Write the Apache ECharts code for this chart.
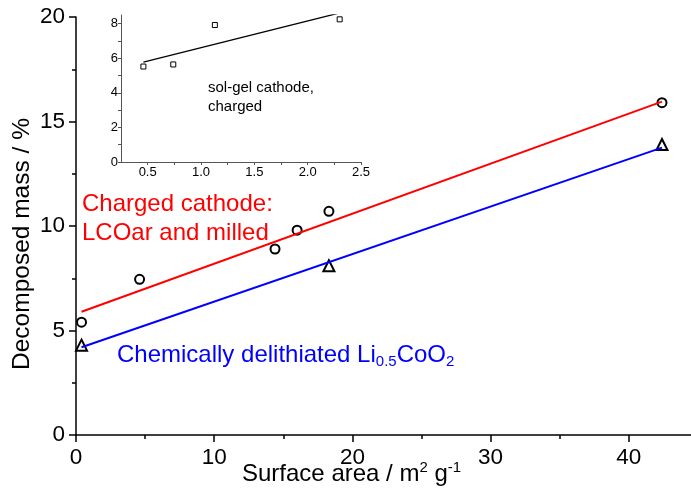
<!DOCTYPE html>
<html>
<head>
<meta charset="utf-8">
<script src="https://cdn.jsdelivr.net/npm/echarts@6/dist/echarts.min.js"></script>
<style>
  html, body { margin: 0; padding: 0; background: #fff; }
  #chart { width: 691px; height: 494px; }
</style>
</head>
<body>
<div id="chart"></div>
<script>
// main plot: charged cathode (circles) and delithiated Li0.5CoO2 (triangles)
const chargedPts = [[0.4, 5.4], [4.6, 7.45], [14.4, 8.9], [16.0, 9.8], [18.3, 10.7], [42.4, 15.9]];
const delithPts = [[0.4, 4.3], [18.3, 8.1], [42.4, 13.9]];
// fitted lines (end points)
const chargedFit = [[0.4, 5.9], [42.4, 15.95]];
const delithFit = [[0.4, 4.2], [42.4, 13.75]];
// inset: sol-gel cathode, charged
const solgelPts = [[0.46, 5.52], [0.74, 5.64], [1.13, 7.92], [2.3, 8.25]];
const solgelFit = [[0.46, 5.78], [2.3, 8.62]];

const mainXTicks = [0, 10, 20, 30, 40];
const mainXMinor = [5, 15, 25, 35];
const insetXTicks = [0.5, 0.75, 1.0, 1.25, 1.5, 1.75, 2.0, 2.25, 2.5];
const insetXLabels = [0.5, 1.0, 1.5, 2.0, 2.5];
const insetYTicks = [0, 1, 2, 3, 4, 5, 6, 7, 8];
const insetYLabels = [0, 2, 4, 6, 8];

const font = 'Liberation Sans, Arial, sans-serif';

const myChart = echarts.init(document.getElementById('chart'));

const option = {
  animation: false,
  textStyle: { fontFamily: font },
  grid: [
    { left: 76, right: 0, top: 17, bottom: 59 },   // main
    { left: 121, right: 330, top: 15, bottom: 332 } // inset
  ],
  xAxis: [
    {
      gridIndex: 0, type: 'value', min: 0, max: 44.5,
      axisLine: { lineStyle: { color: '#000', width: 1.5 } },
      axisTick: { customValues: mainXTicks, length: 7, lineStyle: { color: '#000', width: 1.5 } },
      axisLabel: { customValues: mainXTicks, fontSize: 22.5, color: '#000', margin: 11, fontFamily: font },
      splitLine: { show: false }
    },
    { // minor ticks of main x axis
      gridIndex: 0, type: 'value', min: 0, max: 44.5, position: 'bottom',
      axisLine: { show: false },
      axisTick: { customValues: mainXMinor, length: 4, lineStyle: { color: '#000', width: 1.5 } },
      axisLabel: { show: false },
      splitLine: { show: false }
    },
    {
      gridIndex: 1, type: 'value', min: 0.25, max: 2.5,
      axisLine: { lineStyle: { color: '#555', width: 1 } },
      axisTick: { customValues: insetXTicks, length: 3, lineStyle: { color: '#555', width: 1 } },
      axisLabel: {
        customValues: insetXLabels, fontSize: 13, color: '#000', margin: 4, fontFamily: font,
        formatter: v => v.toFixed(1)
      },
      splitLine: { show: false }
    }
  ],
  yAxis: [
    {
      gridIndex: 0, type: 'value', min: 0, max: 20, interval: 5,
      axisLine: { show: true, lineStyle: { color: '#000', width: 1.5 } },
      axisTick: { show: true, length: 7, lineStyle: { color: '#000', width: 1.5 } },
      minorTick: { show: true, splitNumber: 2, length: 4, lineStyle: { color: '#000', width: 1.5 } },
      axisLabel: { fontSize: 22.5, color: '#000', margin: 11, fontFamily: font },
      splitLine: { show: false }
    },
    {
      gridIndex: 1, type: 'value', min: 0, max: 8.5,
      axisLine: { show: true, lineStyle: { color: '#555', width: 1 } },
      axisTick: { show: true, customValues: insetYTicks, length: 3, lineStyle: { color: '#555', width: 1 } },
      axisLabel: { customValues: insetYLabels, fontSize: 13, color: '#000', margin: 3, fontFamily: font },
      splitLine: { show: false }
    }
  ],
  series: [
    {
      type: 'line', xAxisIndex: 0, yAxisIndex: 0, data: chargedFit,
      symbol: 'none', lineStyle: { color: '#ff0000', width: 2 }
    },
    {
      type: 'line', xAxisIndex: 0, yAxisIndex: 0, data: delithFit,
      symbol: 'none', lineStyle: { color: '#0000ff', width: 2 }
    },
    {
      type: 'scatter', xAxisIndex: 0, yAxisIndex: 0, data: chargedPts,
      symbol: 'circle', symbolSize: 9,
      itemStyle: { color: '#fff', borderColor: '#000', borderWidth: 2, opacity: 1 }
    },
    {
      type: 'scatter', xAxisIndex: 0, yAxisIndex: 0, data: delithPts,
      symbol: 'triangle', symbolSize: 11,
      itemStyle: { color: '#fff', borderColor: '#000', borderWidth: 2, opacity: 1 }
    },
    {
      type: 'line', xAxisIndex: 2, yAxisIndex: 1, data: solgelFit,
      symbol: 'none', clip: true, lineStyle: { color: '#000', width: 1.3 }
    },
    {
      type: 'scatter', xAxisIndex: 2, yAxisIndex: 1, data: solgelPts,
      symbol: 'rect', symbolSize: 5,
      itemStyle: { color: '#fff', borderColor: '#000', borderWidth: 1, opacity: 1 }
    }
  ],
  graphic: [
    {
      type: 'text', left: 82, top: 190,
      style: {
        text: 'Charged cathode:\nLCOar and milled',
        fill: '#ff0000', font: '24px ' + font, lineHeight: 29
      }
    },
    {
      type: 'text', left: 117, top: 343,
      style: {
        text: '{n|Chemically delithiated Li}{s|0.5}{n|CoO}{s|2}',
        fill: '#0000ff', font: '24px ' + font,
        rich: {
          n: { fontSize: 24, fontFamily: font, fill: '#0000ff' },
          s: { fontSize: 15, fontFamily: font, fill: '#0000ff', padding: [14, 0, 0, 0] }
        }
      }
    },
    {
      type: 'text', left: 208, top: 78,
      style: {
        text: 'sol-gel cathode,\ncharged',
        fill: '#000', font: '15px ' + font, lineHeight: 19
      }
    },
    {
      type: 'text', left: 242, top: 460,
      style: {
        text: '{n|Surface area / m}{p|2}{n| g}{p|-1}',
        fill: '#000', font: '24px ' + font,
        rich: {
          n: { fontSize: 24, fontFamily: font, fill: '#000' },
          p: { fontSize: 15, fontFamily: font, fill: '#000', padding: [0, 0, 14, 0] }
        }
      }
    },
    {
      type: 'text', x: 22, y: 244, rotation: Math.PI / 2,
      style: {
        text: 'Decomposed mass / %',
        fill: '#000', font: '24.5px ' + font,
        align: 'center', verticalAlign: 'middle'
      }
    }
  ]
};

myChart.setOption(option);
window.onresize = () => { myChart.resize(); };
</script>
</body>
</html>
